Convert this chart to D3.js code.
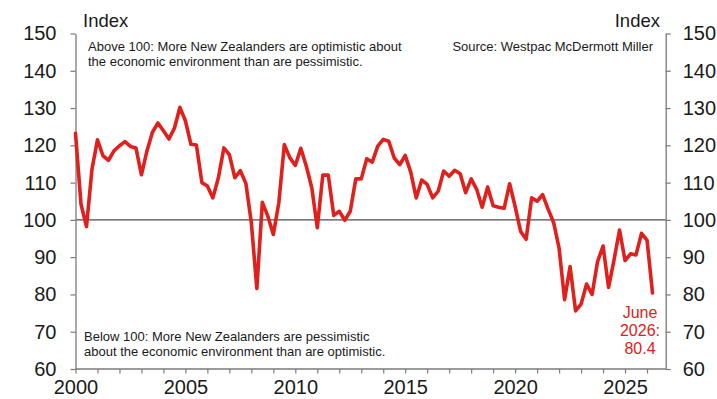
<!DOCTYPE html>
<html><head><meta charset="utf-8">
<script src="https://cdn.jsdelivr.net/npm/d3@7"></script>
<style>
body{margin:0;background:#fff;}
text{font-family:"Liberation Sans",Arial,sans-serif;}
</style></head>
<body><svg id="c" width="717" height="399"></svg>
<script>
// Quarterly index values, 2000 Q1 .. 2026 Q2
const years = d3.range(2000, 2027);
const quarterlyValues = [
  123.2,104.2,98.2,113.6,
  121.5,117.2,116.0,118.5,
  119.9,121.0,119.7,119.3,
  112.1,118.5,123.5,126.0,
  123.9,121.7,124.6,130.2,
  126.6,120.3,120.1,110.0,
  109.1,105.9,111.3,119.3,
  117.5,111.3,113.2,109.8,
  99.2,81.6,104.7,101.0,
  96.1,104.6,120.2,116.7,
  114.6,119.2,114.4,108.6,
  97.9,112.0,112.0,101.2,
  102.3,99.9,102.3,111.0,
  111.0,116.4,115.5,119.8,
  121.6,121.1,116.6,114.8,
  117.3,112.8,105.9,110.7,
  109.5,105.9,107.7,113.1,
  111.7,113.3,112.4,107.3,
  111.0,108.2,103.4,108.8,
  103.8,103.4,103.1,109.7,
  103.6,96.9,94.8,105.9,
  105.0,106.8,102.9,99.3,
  92.4,78.6,87.5,75.6,
  77.4,82.8,80.0,88.8,
  93.0,81.9,89.3,97.3,
  89.1,90.9,90.6,96.4,
  94.6,80.4
];
const yTicks = [60,70,80,90,100,110,120,130,140,150];
const xLabelYears = [2000,2005,2010,2015,2020,2025];
const aboveText = ["Above 100: More New Zealanders are optimistic about","the economic environment than are pessimistic."];
const belowText = ["Below 100: More New Zealanders are pessimistic","about the economic environment than are optimistic."];
const sourceText = "Source: Westpac McDermott Miller";
const latestLabel = ["June","2026:","80.4"];

const data = quarterlyValues.map((v,i)=>({t:2000+i/4, v}));

const svg = d3.select("#c");
const L=75.5, R=665.7, T=33.5, B=369;
const x = d3.scaleLinear().domain([2000,2026.85]).range([L,R]);
const y = d3.scaleLinear().domain([60,150]).range([B,T]);
const red = "#e0201c", axisCol="#7a7a7a";

// 100 reference line
svg.append("line").attr("x1",L).attr("x2",R).attr("y1",y(100)).attr("y2",y(100))
  .attr("stroke","#4d4d4d").attr("stroke-width",1.3);

// axes
const yl = svg.append("g").attr("transform",`translate(${L},0)`)
  .call(d3.axisLeft(y).tickValues(yTicks).tickSize(5).tickPadding(14).tickSizeOuter(0));
const yr = svg.append("g").attr("transform",`translate(${R},0)`)
  .call(d3.axisRight(y).tickValues(yTicks).tickSize(5).tickPadding(12).tickSizeOuter(0));
const xa = svg.append("g").attr("transform",`translate(0,${B})`)
  .call(d3.axisBottom(x).tickValues(years).tickSize(4.5).tickPadding(6).tickSizeOuter(0)
    .tickFormat(d=>xLabelYears.includes(d)?String(d):""));
xa.select(".domain").attr("d",`M${L},0H${R}`);
[yl,yr,xa].forEach(g=>{
  g.select(".domain").attr("stroke",axisCol).attr("stroke-width",1.3);
  g.selectAll(".tick line").attr("stroke",axisCol).attr("stroke-width",1.2);
  g.selectAll(".tick text").attr("fill","#1a1a1a").style("font-size","20px")
    .style("font-family","'Liberation Sans',Arial,sans-serif");
});
xa.selectAll(".tick text").attr("dy","0.72em");

// line
svg.append("path").datum(data)
  .attr("fill","none").attr("stroke",red).attr("stroke-width",3.6)
  .attr("stroke-linejoin","round").attr("stroke-linecap","round")
  .attr("d",d3.line().x(d=>x(d.t)).y(d=>y(d.v)));

// titles
svg.append("text").attr("x",83).attr("y",27).text("Index").style("font-size","18.5px").attr("fill","#1a1a1a");
svg.append("text").attr("x",660).attr("y",27).attr("text-anchor","end").text("Index").style("font-size","18.5px").attr("fill","#1a1a1a");

// annotations
const ann = (lines,x0,y0)=>{
  lines.forEach((s,i)=>svg.append("text").attr("x",x0).attr("y",y0+i*14.5).text(s)
    .style("font-size","13px").attr("fill","#1a1a1a"));
};
ann(aboveText,88,51);
ann(belowText,84,341);
svg.append("text").attr("x",653).attr("y",51).attr("text-anchor","end").text(sourceText)
  .style("font-size","13px").attr("fill","#1a1a1a");

latestLabel.forEach((s,i)=>svg.append("text").attr("x",640).attr("y",318+i*18)
  .attr("text-anchor","middle").text(s).style("font-size","16px").attr("fill",red));
</script></body></html>
